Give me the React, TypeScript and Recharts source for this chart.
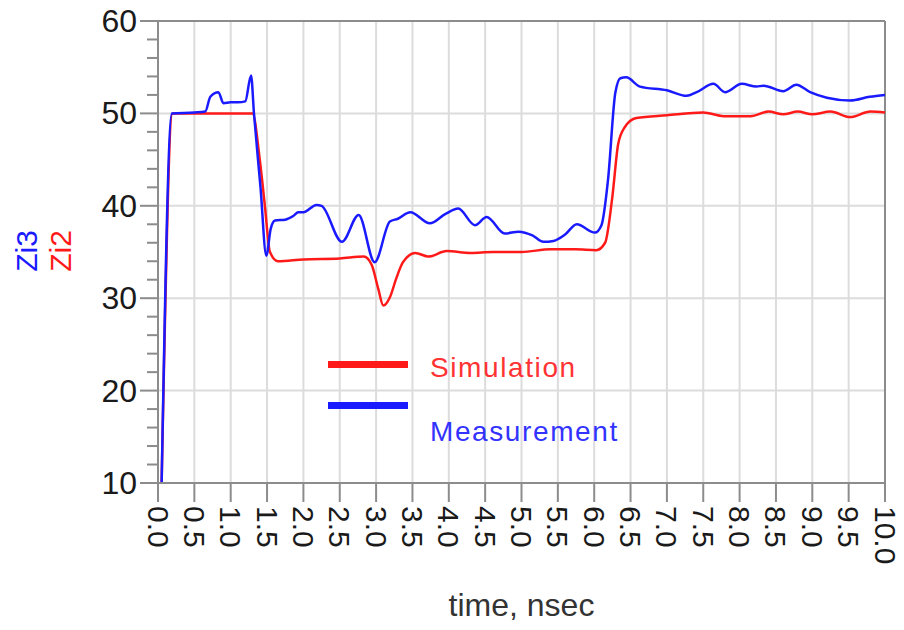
import React from "react"
import { LineChart, Line, XAxis, YAxis, CartesianGrid, ReferenceLine, Legend } from "recharts"

// Simulation (Zi2)
const simTime = [0.05, 0.2, 0.6, 1.0, 1.3, 1.4, 1.47, 1.54, 1.65, 2.0, 2.5, 2.83, 2.94, 3.03, 3.1, 3.19, 3.28, 3.37, 3.54, 3.72, 3.97, 4.3, 4.6, 5.0, 5.4, 5.74, 6.03, 6.15, 6.25, 6.33, 6.42, 6.58, 7.0, 7.5, 7.78, 8.15, 8.4, 8.6, 8.8, 9.0, 9.25, 9.52, 9.8, 10.0]
const simValue = [10, 50, 50, 50, 50, 45.0, 40.0, 35.0, 34.0, 34.2, 34.3, 34.5, 33.6, 31.0, 29.2, 30.1, 32.2, 33.9, 34.9, 34.5, 35.1, 34.9, 35.0, 35.0, 35.3, 35.3, 35.2, 36.0, 41.0, 46.7, 48.5, 49.5, 49.8, 50.1, 49.7, 49.7, 50.2, 49.9, 50.2, 49.9, 50.2, 49.6, 50.2, 50.1]

// Measurement (Zi3)
const measTime = [0.05, 0.19, 0.5, 0.65, 0.72, 0.83, 0.9, 1.0, 1.1, 1.2, 1.28, 1.32, 1.41, 1.49, 1.55, 1.61, 1.75, 1.86, 1.93, 2.0, 2.18, 2.25, 2.53, 2.76, 2.98, 3.19, 3.3, 3.47, 3.74, 3.95, 4.13, 4.36, 4.52, 4.77, 4.96, 5.15, 5.3, 5.44, 5.6, 5.76, 6.01, 6.1, 6.19, 6.29, 6.36, 6.44, 6.63, 7.0, 7.27, 7.41, 7.64, 7.8, 8.03, 8.23, 8.33, 8.6, 8.78, 8.97, 9.2, 9.52, 9.79, 10.0]
const measValue = [10, 50, 50.1, 50.2, 51.8, 52.3, 51.1, 51.2, 51.2, 51.3, 54.1, 50, 42, 34.6, 37.5, 38.4, 38.5, 38.9, 39.3, 39.3, 40.1, 40.0, 36.1, 39.0, 33.9, 38.3, 38.6, 39.3, 38.1, 39.1, 39.7, 37.9, 38.8, 37.0, 37.2, 36.8, 36.1, 36.2, 36.9, 38.0, 37.1, 37.9, 42.8, 52.2, 53.8, 53.9, 52.9, 52.5, 51.9, 52.3, 53.2, 52.3, 53.2, 52.9, 53.0, 52.4, 53.1, 52.3, 51.7, 51.4, 51.8, 52.0]

const xTicks = [0, 0.5, 1, 1.5, 2, 2.5, 3, 3.5, 4, 4.5, 5, 5.5, 6, 6.5, 7, 7.5, 8, 8.5, 9, 9.5, 10]
const yTicks = [10, 12, 14, 16, 18, 20, 22, 24, 26, 28, 30, 32, 34, 36, 38, 40, 42, 44, 46, 48, 50, 52, 54, 56, 58, 60]
const yGrid = [10, 20, 30, 40, 50, 60]

const simData = simTime.map((t, i) => ({ t, v: simValue[i] }))
const measData = measTime.map((t, i) => ({ t, v: measValue[i] }))

const FONT = '"Liberation Sans", Arial, sans-serif'
const AXIS = "#8c8c8c"
const RED = "#ff1a1a"
const BLUE = "#1a1aff"

function XTick({ x, y, payload }: any) {
  return (
    <text x={x} y={y} transform={`rotate(90, ${x}, ${y})`} textAnchor="start" dominantBaseline="central"
      fontSize={30} fontFamily={FONT} fill="#1a1a1a">
      {Number(payload.value).toFixed(1)}
    </text>
  )
}

function YTick({ x, y, payload }: any) {
  const major = payload.value % 10 === 0
  return (
    <g>
      <line x1={x - (major ? 18 : 11)} x2={x} y1={y} y2={y} stroke={AXIS} strokeWidth={2} />
      {major && (
        <text x={x - 21} y={y} textAnchor="end" dominantBaseline="central" fontSize={32} fontFamily={FONT} fill="#1a1a1a">
          {payload.value}
        </text>
      )}
    </g>
  )
}

function YLabel() {
  return (
    <g fontFamily={FONT} fontSize={30}>
      <text x={26} y={251} transform="rotate(-90, 26, 251)" textAnchor="middle" dominantBaseline="central" fill={BLUE}>Zi3</text>
      <text x={60} y={251} transform="rotate(-90, 60, 251)" textAnchor="middle" dominantBaseline="central" fill={RED}>Zi2</text>
    </g>
  )
}

function renderLegend() {
  const rows = [
    { name: "Simulation", color: RED, text: "#ff3333", bar: 11, label: 18 },
    { name: "Measurement", color: BLUE, text: "#3333ff", bar: 52, label: 82 },
  ]
  return (
    <div style={{ position: "relative", width: 320, height: 110, fontFamily: FONT }}>
      {rows.map(r => (
        <React.Fragment key={r.name}>
          <div style={{ position: "absolute", left: 0, top: r.bar, width: 80, height: 7, background: r.color }} />
          <div style={{ position: "absolute", left: 102, top: r.label - 17, fontSize: 28, letterSpacing: 1.6, lineHeight: "34px", color: r.text, whiteSpace: "nowrap" }}>
            {r.name}
          </div>
        </React.Fragment>
      ))}
    </div>
  )
}

export default function App() {
  return (
    <div style={{ position: "absolute", left: 0, top: 0, background: "#fff" }}>
      <LineChart width={904} height={630} margin={{ top: 21, right: 19, left: 0, bottom: 0 }}>
        <CartesianGrid stroke="#dcdcdc" strokeWidth={2} horizontalValues={yGrid} />
        <XAxis
          dataKey="t" type="number" domain={[0, 10]} ticks={xTicks} interval={0} height={147}
          tick={<XTick />} tickSize={19} tickMargin={4} tickLine={{ stroke: AXIS, strokeWidth: 2 }}
          axisLine={{ stroke: AXIS, strokeWidth: 2 }} allowDuplicatedCategory={false}
          label={{ value: "time, nsec", position: "insideBottom", offset: 14, fontSize: 32, fill: "#333", fontFamily: FONT }}
        />
        <YAxis
          type="number" domain={[10, 60]} ticks={yTicks} interval={0} width={158}
          tick={<YTick />} tickSize={0} tickMargin={0} tickLine={false}
          axisLine={{ stroke: AXIS, strokeWidth: 2 }} label={<YLabel />}
        />
        <ReferenceLine y={60} stroke={AXIS} strokeWidth={2} />
        <ReferenceLine x={10} stroke={AXIS} strokeWidth={2} />
        <Legend layout="vertical" align="center" verticalAlign="middle" content={renderLegend}
          wrapperStyle={{ left: 328, top: 350, width: 320 }} />
        <Line data={simData} dataKey="v" name="Simulation" type="monotone" stroke={RED} strokeWidth={2.5} dot={false} isAnimationActive={false} />
        <Line data={measData} dataKey="v" name="Measurement" type="monotone" stroke={BLUE} strokeWidth={2.5} dot={false} isAnimationActive={false} />
      </LineChart>
    </div>
  )
}
